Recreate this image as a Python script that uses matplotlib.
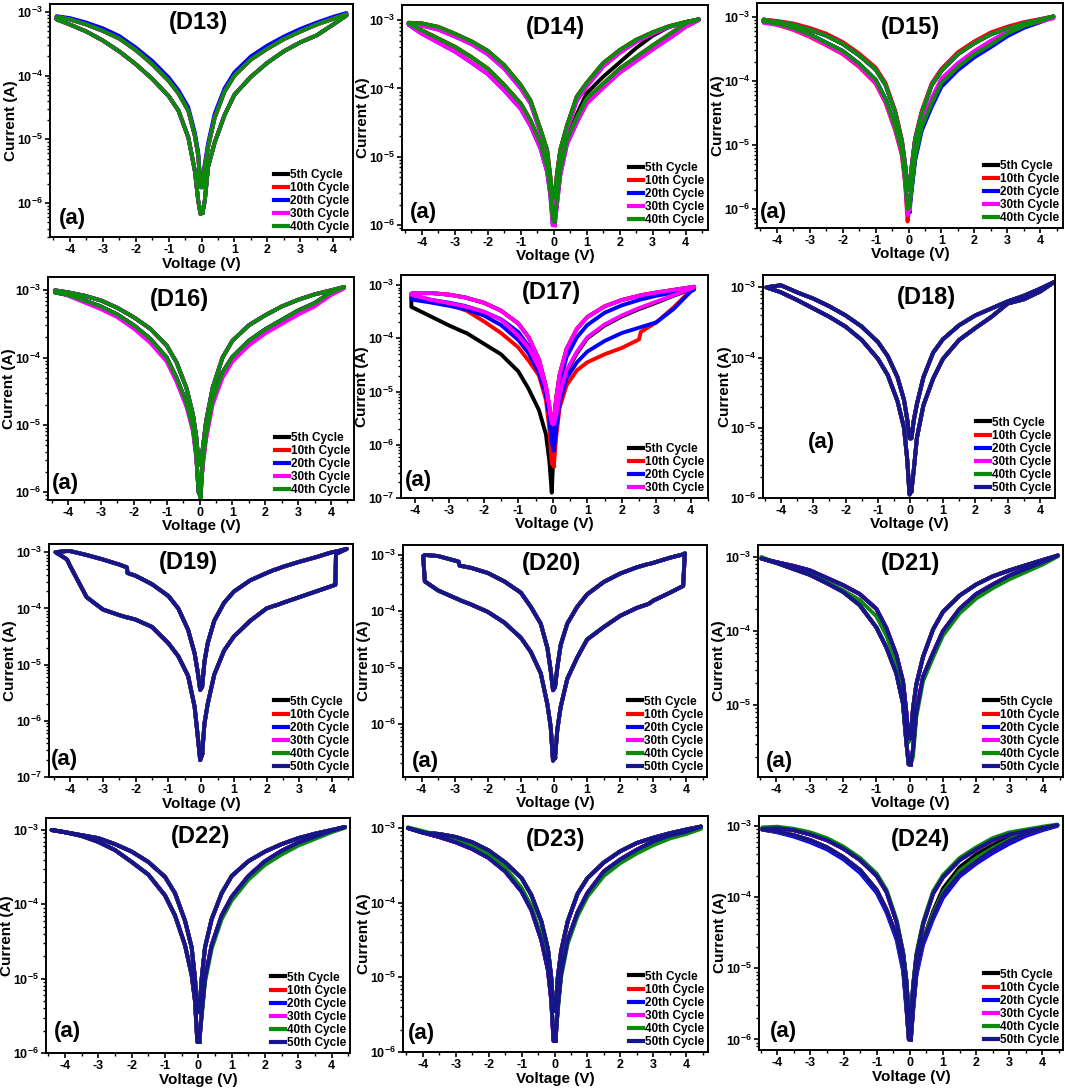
import numpy as np
import matplotlib.pyplot as plt
from matplotlib.ticker import MultipleLocator, LogLocator, FuncFormatter, NullFormatter

plt.rcParams['font.family'] = ['Liberation Sans', 'DejaVu Sans']
plt.rcParams['font.weight'] = 'bold'
plt.rcParams['axes.labelweight'] = 'bold'
plt.rcParams['axes.unicode_minus'] = False
plt.rcParams['mathtext.fontset'] = 'custom'
plt.rcParams['mathtext.rm'] = 'Liberation Sans'
plt.rcParams['mathtext.bf'] = 'Liberation Sans:bold'

CYCLES = ['5th Cycle', '10th Cycle', '20th Cycle', '30th Cycle', '40th Cycle', '50th Cycle']
COLORS = ['#000000', '#ff0000', '#0000ff', '#ff00ff', '#0b8a0b', '#16168a']

V_44 = [0.03, 0.1, 0.2, 0.4, 0.7, 1.0, 1.5, 2.0, 2.5, 3.0, 3.5, 4.0, 4.4]
V_445 = [0.03, 0.1, 0.2, 0.4, 0.7, 1.0, 1.5, 2.0, 2.5, 3.0, 3.5, 4.0, 4.45]
V_17 = [0.03, 0.1, 0.2, 0.4, 0.7, 1.0, 1.5, 2.0, 2.5, 2.55, 3.0, 3.5, 4.0, 4.1]
V_19 = [0.03, 0.1, 0.2, 0.4, 0.7, 1.0, 1.5, 2.0, 2.25, 2.27, 2.5, 3.0, 3.5, 4.0, 4.1, 4.12, 4.45]
V_20 = [0.03, 0.1, 0.2, 0.4, 0.7, 1.0, 1.5, 2.0, 2.5, 2.85, 2.88, 3.0, 3.5, 3.9, 3.95]

# log10 of current (A). UP = low-resistance branch, LO = high-resistance branch
D13_UP_POS = [-5.75, -5.43, -5.12, -4.66, -4.25, -4.0, -3.75, -3.58, -3.43, -3.31, -3.2, -3.11, -3.04]
D13_LO_POS = [-6.15, -5.96, -5.43, -5.05, -4.62, -4.3, -4.02, -3.8, -3.62, -3.48, -3.37, -3.2, -3.06]
D13_UP_NEG = [-5.75, -5.25, -4.95, -4.55, -4.28, -4.08, -3.82, -3.6, -3.42, -3.3, -3.2, -3.12, -3.08]
D13_LO_NEG = [-6.17, -5.96, -5.5, -4.97, -4.55, -4.32, -4.05, -3.82, -3.62, -3.45, -3.31, -3.2, -3.12]
D13_B_UP_POS = [-5.7, -5.38, -5.06, -4.6, -4.2, -3.95, -3.7, -3.53, -3.39, -3.27, -3.17, -3.08, -3.02]
D13_B_UP_NEG = [-5.7, -5.2, -4.9, -4.5, -4.23, -4.03, -3.77, -3.56, -3.38, -3.26, -3.17, -3.1, -3.07]

D14_UP_POS = [-5.6, -5.25, -4.9, -4.55, -4.12, -3.92, -3.63, -3.44, -3.29, -3.18, -3.09, -3.03, -2.99]
D14_LO_POS = [-5.95, -5.63, -5.2, -4.75, -4.43, -4.15, -3.93, -3.71, -3.54, -3.37, -3.21, -3.05, -2.99]
D14_UP_NEG = [-5.6, -5.3, -4.9, -4.6, -4.18, -3.95, -3.66, -3.45, -3.31, -3.2, -3.1, -3.05, -3.04]
D14_LO_NEG = [-5.9, -5.5, -5.15, -4.8, -4.47, -4.22, -3.95, -3.71, -3.54, -3.39, -3.27, -3.15, -3.05]
D14_K_LO_POS = [-5.95, -5.63, -5.2, -4.75, -4.38, -4.07, -3.83, -3.62, -3.41, -3.23, -3.1, -3.03, -2.99]
D14_M_UP_POS = [-5.65, -5.3, -4.95, -4.6, -4.18, -3.97, -3.68, -3.48, -3.32, -3.2, -3.1, -3.04, -2.99]
D14_M_LO_POS = [-6.0, -5.7, -5.27, -4.82, -4.5, -4.22, -3.99, -3.77, -3.6, -3.43, -3.27, -3.1, -3.0]
D14_M_UP_NEG = [-5.65, -5.35, -4.95, -4.65, -4.22, -4.0, -3.71, -3.5, -3.35, -3.24, -3.14, -3.08, -3.06]
D14_M_LO_NEG = [-6.0, -5.57, -5.22, -4.88, -4.55, -4.3, -4.03, -3.79, -3.62, -3.46, -3.33, -3.2, -3.07]

D15_UP_POS = [-5.7, -5.33, -4.92, -4.5, -4.07, -3.84, -3.58, -3.41, -3.27, -3.18, -3.1, -3.04, -2.99]
D15_LO_POS = [-5.96, -5.65, -5.2, -4.72, -4.35, -4.03, -3.78, -3.58, -3.43, -3.26, -3.14, -3.06, -2.99]
D15_UP_NEG = [-5.65, -5.33, -4.95, -4.5, -4.06, -3.82, -3.6, -3.42, -3.29, -3.2, -3.12, -3.07, -3.04]
D15_LO_NEG = [-6.0, -5.55, -5.1, -4.72, -4.28, -3.98, -3.73, -3.53, -3.4, -3.27, -3.17, -3.1, -3.07]
D15_R_UP_POS = [-5.7, -5.3, -4.89, -4.47, -4.04, -3.81, -3.55, -3.38, -3.24, -3.15, -3.08, -3.03, -2.99]
D15_R_UP_NEG = [-5.65, -5.3, -4.92, -4.47, -4.03, -3.79, -3.57, -3.39, -3.26, -3.17, -3.1, -3.06, -3.04]
D15_R_LO_NEG = [-6.2, -5.62, -5.17, -4.78, -4.34, -4.04, -3.78, -3.58, -3.44, -3.31, -3.2, -3.12, -3.08]
D15_B_LO_POS = [-6.05, -5.7, -5.25, -4.78, -4.41, -4.09, -3.83, -3.63, -3.47, -3.3, -3.17, -3.08, -3.0]
D15_M_LO_POS = [-6.0, -5.6, -5.13, -4.65, -4.27, -3.96, -3.72, -3.53, -3.37, -3.23, -3.13, -3.07, -3.02]
D15_M_LO_NEG = [-6.1, -5.6, -5.15, -4.77, -4.33, -4.03, -3.77, -3.57, -3.43, -3.3, -3.19, -3.12, -3.09]

D16_UP_POS = [-5.6, -5.35, -4.95, -4.45, -4.0, -3.75, -3.52, -3.37, -3.24, -3.14, -3.06, -3.0, -2.95]
D16_LO_POS = [-6.07, -5.55, -5.15, -4.62, -4.22, -3.99, -3.75, -3.58, -3.44, -3.3, -3.19, -3.03, -2.95]
D16_UP_NEG = [-5.55, -5.18, -4.85, -4.45, -4.07, -3.82, -3.57, -3.4, -3.26, -3.15, -3.08, -3.03, -3.0]
D16_LO_NEG = [-6.0, -5.45, -5.05, -4.67, -4.3, -4.0, -3.72, -3.52, -3.36, -3.24, -3.15, -3.07, -3.03]
D16_M_LO_POS = [-5.95, -5.62, -5.22, -4.7, -4.3, -4.06, -3.82, -3.64, -3.5, -3.36, -3.24, -3.07, -2.97]
D16_M_LO_NEG = [-5.9, -5.5, -5.1, -4.73, -4.36, -4.06, -3.78, -3.57, -3.4, -3.28, -3.18, -3.08, -3.0]

D17_UP_POS = [-5.55, -5.12, -4.68, -4.2, -3.82, -3.6, -3.4, -3.28, -3.2, -3.19, -3.14, -3.09, -3.04, -3.03]
D17_UP_NEG = [-5.6, -5.3, -4.9, -4.4, -3.98, -3.72, -3.48, -3.33, -3.24, -3.23, -3.18, -3.15, -3.15, -3.16]
D17_K_LO_POS = [-6.0, -5.5, -5.08, -4.63, -4.28, -4.0, -3.76, -3.59, -3.45, -3.44, -3.33, -3.2, -3.08, -3.03]
D17_K_LO_NEG = [-6.9, -6.3, -5.8, -5.35, -4.95, -4.62, -4.3, -4.1, -3.9, -3.89, -3.76, -3.6, -3.44, -3.41]
D17_R_LO_POS = [-6.4, -5.85, -5.3, -4.88, -4.6, -4.45, -4.3, -4.18, -4.02, -3.88, -3.7, -3.42, -3.1, -3.03]
D17_R_LO_NEG = [-6.35, -5.7, -5.15, -4.7, -4.42, -4.17, -3.9, -3.68, -3.48, -3.47, -3.36, -3.28, -3.2, -3.17]
D17_B_UP_POS = [-5.9, -5.3, -4.85, -4.35, -3.98, -3.75, -3.52, -3.38, -3.28, -3.27, -3.2, -3.14, -3.1, -3.08]
D17_B_LO_POS = [-6.1, -5.7, -5.2, -4.75, -4.45, -4.25, -4.05, -3.9, -3.8, -3.79, -3.7, -3.45, -3.12, -3.08]
D17_B_UP_NEG = [-5.9, -5.45, -5.0, -4.55, -4.15, -3.88, -3.64, -3.5, -3.4, -3.39, -3.33, -3.28, -3.25, -3.25]
D17_B_LO_NEG = [-5.95, -5.45, -5.05, -4.65, -4.28, -4.03, -3.75, -3.57, -3.46, -3.45, -3.39, -3.33, -3.28, -3.26]
D17_M_LO_POS = [-5.6, -5.45, -5.05, -4.6, -4.25, -3.98, -3.74, -3.57, -3.43, -3.42, -3.31, -3.19, -3.07, -3.03]
D17_M_LO_NEG = [-5.55, -5.25, -4.92, -4.55, -4.18, -3.95, -3.65, -3.5, -3.41, -3.4, -3.34, -3.28, -3.2, -3.18]

D18_UP_POS = [-5.15, -4.9, -4.66, -4.28, -3.93, -3.74, -3.54, -3.4, -3.3, -3.2, -3.12, -3.02, -2.92]
D18_LO_POS = [-5.9, -5.61, -5.14, -4.68, -4.3, -4.02, -3.75, -3.58, -3.42, -3.23, -3.17, -3.06, -2.92]
D18_UP_NEG = [-5.15, -4.88, -4.6, -4.28, -3.98, -3.78, -3.56, -3.4, -3.27, -3.16, -3.07, -2.97, -3.0]
D18_LO_NEG = [-5.95, -5.45, -5.0, -4.62, -4.25, -4.02, -3.75, -3.56, -3.42, -3.3, -3.18, -3.07, -3.0]

D19_UP_POS = [-5.4, -4.95, -4.62, -4.22, -3.9, -3.7, -3.5, -3.37, -3.31, -3.31, -3.26, -3.17, -3.09, -3.0, -2.99, -2.99, -2.94]
D19_LO_POS = [-6.6, -6.05, -5.7, -5.18, -4.75, -4.5, -4.22, -4.0, -3.95, -3.95, -3.9, -3.8, -3.7, -3.6, -3.58, -3.03, -2.94]
D19_UP_NEG = [-5.45, -5.15, -4.8, -4.38, -4.0, -3.78, -3.57, -3.42, -3.37, -3.27, -3.22, -3.13, -3.05, -2.98, -2.98, -2.98, -3.0]
D19_LO_NEG = [-6.7, -6.3, -5.75, -5.2, -4.85, -4.62, -4.33, -4.2, -4.16, -4.16, -4.12, -4.02, -3.8, -3.25, -3.13, -3.12, -3.0]

D20_UP_POS = [-5.35, -5.0, -4.6, -4.22, -3.92, -3.7, -3.48, -3.33, -3.22, -3.16, -3.16, -3.14, -3.05, -2.99, -2.98]
D20_LO_POS = [-6.6, -6.1, -5.7, -5.2, -4.82, -4.5, -4.28, -4.08, -3.94, -3.87, -3.86, -3.81, -3.67, -3.55, -2.97]
D20_UP_NEG = [-5.4, -5.05, -4.65, -4.22, -3.92, -3.67, -3.47, -3.32, -3.23, -3.19, -3.12, -3.1, -3.02, -3.0, -3.02]
D20_LO_NEG = [-6.65, -6.05, -5.65, -5.1, -4.72, -4.47, -4.2, -4.01, -3.88, -3.8, -3.79, -3.76, -3.63, -3.47, -3.03]

D21_UP_POS = [-5.45, -5.05, -4.72, -4.35, -3.98, -3.74, -3.52, -3.37, -3.26, -3.18, -3.11, -3.04, -2.98]
D21_LO_POS = [-5.8, -5.6, -5.1, -4.62, -4.3, -4.0, -3.7, -3.5, -3.37, -3.25, -3.16, -3.07, -2.98]
D21_UP_NEG = [-5.45, -5.1, -4.68, -4.32, -3.96, -3.7, -3.5, -3.38, -3.28, -3.18, -3.12, -3.07, -3.02]
D21_LO_NEG = [-5.8, -5.5, -4.98, -4.57, -4.22, -3.95, -3.65, -3.47, -3.35, -3.24, -3.16, -3.08, -3.02]
D21_G_LO_POS = [-5.8, -5.7, -5.16, -4.68, -4.36, -4.06, -3.76, -3.56, -3.42, -3.3, -3.2, -3.1, -2.99]
D21_G_UP_NEG = [-5.5, -5.2, -4.8, -4.42, -4.06, -3.8, -3.58, -3.45, -3.33, -3.22, -3.15, -3.08, -3.0]

D22_UP_POS = [-5.45, -5.0, -4.58, -4.2, -3.85, -3.62, -3.42, -3.29, -3.19, -3.11, -3.05, -3.0, -2.96]
D22_LO_POS = [-5.85, -5.47, -5.0, -4.55, -4.15, -3.9, -3.62, -3.42, -3.28, -3.17, -3.09, -3.01, -2.96]
D22_UP_NEG = [-5.45, -5.0, -4.58, -4.22, -3.85, -3.63, -3.43, -3.29, -3.19, -3.11, -3.07, -3.03, -3.0]
D22_LO_NEG = [-5.85, -5.3, -4.95, -4.55, -4.15, -3.88, -3.6, -3.43, -3.27, -3.16, -3.08, -3.03, -3.0]
D22_G_LO_POS = [-5.8, -5.52, -5.05, -4.6, -4.2, -3.95, -3.67, -3.47, -3.33, -3.21, -3.12, -3.03, -2.97]

D23_UP_POS = [-5.45, -5.0, -4.65, -4.25, -3.88, -3.67, -3.46, -3.31, -3.2, -3.13, -3.07, -3.02, -2.98]
D23_LO_POS = [-5.85, -5.4, -4.95, -4.5, -4.13, -3.87, -3.58, -3.42, -3.29, -3.18, -3.1, -3.05, -2.98]
D23_UP_NEG = [-5.45, -5.0, -4.62, -4.25, -3.9, -3.67, -3.46, -3.3, -3.19, -3.12, -3.08, -3.06, -3.0]
D23_LO_NEG = [-5.85, -5.3, -4.9, -4.5, -4.1, -3.85, -3.58, -3.4, -3.28, -3.19, -3.12, -3.06, -3.0]
D23_G_LO_POS = [-5.8, -5.45, -5.0, -4.55, -4.18, -3.92, -3.64, -3.47, -3.34, -3.23, -3.14, -3.08, -3.01]
D23_G_LO_NEG = [-5.8, -5.25, -4.85, -4.45, -4.05, -3.8, -3.53, -3.36, -3.25, -3.16, -3.1, -3.04, -2.99]

D24_UP_POS = [-5.75, -5.25, -4.82, -4.38, -3.95, -3.72, -3.48, -3.33, -3.2, -3.12, -3.07, -3.03, -2.99]
D24_LO_POS = [-6.0, -5.55, -5.05, -4.62, -4.27, -3.96, -3.68, -3.5, -3.34, -3.21, -3.11, -3.04, -2.99]
D24_UP_NEG = [-5.7, -5.2, -4.8, -4.35, -3.93, -3.7, -3.48, -3.32, -3.2, -3.12, -3.06, -3.03, -3.04]
D24_LO_NEG = [-6.0, -5.55, -5.0, -4.55, -4.18, -3.9, -3.62, -3.44, -3.3, -3.2, -3.13, -3.08, -3.05]
D24_K_LO_POS = [-6.0, -5.55, -5.05, -4.6, -4.2, -3.88, -3.58, -3.4, -3.27, -3.16, -3.08, -3.03, -2.99]
D24_G_UP_POS = [-5.7, -5.22, -4.79, -4.35, -3.92, -3.69, -3.45, -3.3, -3.17, -3.09, -3.05, -3.01, -2.98]
D24_G_LO_POS = [-6.0, -5.55, -5.05, -4.6, -4.23, -3.93, -3.63, -3.45, -3.31, -3.19, -3.1, -3.04, -2.99]
D24_G_UP_NEG = [-5.7, -5.18, -4.77, -4.32, -3.9, -3.67, -3.45, -3.29, -3.17, -3.09, -3.04, -3.01, -3.02]
D24_B_LO_POS = [-6.0, -5.6, -5.1, -4.67, -4.31, -4.01, -3.71, -3.53, -3.38, -3.25, -3.14, -3.06, -3.0]
D24_B_LO_NEG = [-6.0, -5.6, -5.05, -4.6, -4.22, -3.94, -3.66, -3.47, -3.33, -3.23, -3.15, -3.09, -3.05]

# one loop = (V grid, UP_POS, LO_POS, UP_NEG, LO_NEG)
L13 = (V_44, D13_UP_POS, D13_LO_POS, D13_UP_NEG, D13_LO_NEG)
L13_B = (V_44, D13_B_UP_POS, D13_LO_POS, D13_B_UP_NEG, D13_LO_NEG)
L14 = (V_44, D14_UP_POS, D14_LO_POS, D14_UP_NEG, D14_LO_NEG)
L14_K = (V_44, D14_UP_POS, D14_K_LO_POS, D14_UP_NEG, D14_LO_NEG)
L14_M = (V_44, D14_M_UP_POS, D14_M_LO_POS, D14_M_UP_NEG, D14_M_LO_NEG)
L15 = (V_44, D15_UP_POS, D15_LO_POS, D15_UP_NEG, D15_LO_NEG)
L15_R = (V_44, D15_R_UP_POS, D15_LO_POS, D15_R_UP_NEG, D15_R_LO_NEG)
L15_B = (V_44, D15_UP_POS, D15_B_LO_POS, D15_UP_NEG, D15_LO_NEG)
L15_M = (V_44, D15_UP_POS, D15_M_LO_POS, D15_UP_NEG, D15_M_LO_NEG)
L16 = (V_44, D16_UP_POS, D16_LO_POS, D16_UP_NEG, D16_LO_NEG)
L16_M = (V_44, D16_UP_POS, D16_M_LO_POS, D16_UP_NEG, D16_M_LO_NEG)
L17_K = (V_17, D17_UP_POS, D17_K_LO_POS, D17_UP_NEG, D17_K_LO_NEG)
L17_R = (V_17, D17_UP_POS, D17_R_LO_POS, D17_UP_NEG, D17_R_LO_NEG)
L17_B = (V_17, D17_B_UP_POS, D17_B_LO_POS, D17_B_UP_NEG, D17_B_LO_NEG)
L17_M = (V_17, D17_UP_POS, D17_M_LO_POS, D17_UP_NEG, D17_M_LO_NEG)
L18 = (V_445, D18_UP_POS, D18_LO_POS, D18_UP_NEG, D18_LO_NEG)
L19 = (V_19, D19_UP_POS, D19_LO_POS, D19_UP_NEG, D19_LO_NEG)
L20 = (V_20, D20_UP_POS, D20_LO_POS, D20_UP_NEG, D20_LO_NEG)
L21 = (V_445, D21_UP_POS, D21_LO_POS, D21_UP_NEG, D21_LO_NEG)
L21_G = (V_445, D21_UP_POS, D21_G_LO_POS, D21_G_UP_NEG, D21_LO_NEG)
L22 = (V_44, D22_UP_POS, D22_LO_POS, D22_UP_NEG, D22_LO_NEG)
L22_G = (V_44, D22_UP_POS, D22_G_LO_POS, D22_UP_NEG, D22_LO_NEG)
L23 = (V_445, D23_UP_POS, D23_LO_POS, D23_UP_NEG, D23_LO_NEG)
L23_G = (V_445, D23_UP_POS, D23_G_LO_POS, D23_UP_NEG, D23_G_LO_NEG)
L24 = (V_445, D24_UP_POS, D24_LO_POS, D24_UP_NEG, D24_LO_NEG)
L24_K = (V_445, D24_UP_POS, D24_K_LO_POS, D24_UP_NEG, D24_LO_NEG)
L24_B = (V_445, D24_UP_POS, D24_B_LO_POS, D24_UP_NEG, D24_B_LO_NEG)
L24_G = (V_445, D24_G_UP_POS, D24_G_LO_POS, D24_G_UP_NEG, D24_LO_NEG)

# layout: pixel box (left, top, right, bottom), limits, text spots in axes fraction
PANELS = [
    dict(tag='(D13)', box=(50, 4, 353, 237), xlim=(-4.6, 4.6), ylim=(2.95e-7, 1.32e-3),
         tpos=(0.49, 0.92), apos=(0.03, 0.08), loops=[L13, L13, L13_B, L13, L13]),
    dict(tag='(D14)', box=(402, 5, 708, 230), xlim=(-4.6, 4.68), ylim=(8.5e-7, 1.66e-3),
         tpos=(0.5, 0.9), apos=(0.026, 0.076), loops=[L14_K, L14, L14_M, L14_M, L14]),
    dict(tag='(D15)', box=(757, 3, 1063, 228), xlim=(-4.6, 4.69), ylim=(5.0e-7, 1.66e-3),
         tpos=(0.5, 0.89), apos=(0.01, 0.07), loops=[L15, L15_R, L15_B, L15_M, L15]),
    dict(tag='(D16)', box=(48, 277, 354, 500), xlim=(-4.61, 4.7), ylim=(7.6e-7, 1.58e-3),
         tpos=(0.43, 0.9), apos=(0.013, 0.076), loops=[L16, L16, L16, L16_M, L16]),
    dict(tag='(D17)', box=(401, 275, 708, 498), xlim=(-4.4, 4.5), ylim=(1.0e-7, 1.55e-3),
         tpos=(0.49, 0.92), apos=(0.013, 0.08), loops=[L17_K, L17_R, L17_B, L17_M]),
    dict(tag='(D18)', box=(763, 275, 1055, 498), xlim=(-4.55, 4.46), ylim=(1.0e-6, 1.5e-3),
         tpos=(0.56, 0.9), apos=(0.155, 0.247), loops=[L18] * 6),
    dict(tag='(D19)', box=(49, 544, 353, 777), xlim=(-4.65, 4.64), ylim=(1.0e-7, 1.4e-3),
         tpos=(0.46, 0.92), apos=(0.005, 0.073), loops=[L19] * 6),
    dict(tag='(D20)', box=(403, 545, 707, 777), xlim=(-4.56, 4.62), ylim=(1.15e-7, 1.5e-3),
         tpos=(0.49, 0.92), apos=(0.03, 0.065), loops=[L20] * 6),
    dict(tag='(D21)', box=(758, 545, 1063, 777), xlim=(-4.55, 4.6), ylim=(1.07e-6, 1.45e-3),
         tpos=(0.5, 0.92), apos=(0.026, 0.065), loops=[L21, L21, L21, L21, L21_G, L21]),
    dict(tag='(D22)', box=(46, 818, 350, 1053), xlim=(-4.57, 4.55), ylim=(1.0e-6, 1.45e-3),
         tpos=(0.51, 0.92), apos=(0.026, 0.09), loops=[L22, L22, L22, L22, L22_G, L22]),
    dict(tag='(D23)', box=(403, 816, 708, 1052), xlim=(-4.6, 4.66), ylim=(1.0e-6, 1.45e-3),
         tpos=(0.5, 0.9), apos=(0.016, 0.08), loops=[L23, L23, L23, L23, L23_G, L23]),
    dict(tag='(D24)', box=(759, 816, 1063, 1050), xlim=(-4.55, 4.62), ylim=(7.1e-7, 1.38e-3),
         tpos=(0.53, 0.9), apos=(0.036, 0.08), loops=[L24_K, L24, L24_B, L24, L24_G, L24]),
]

W, H = 1065.0, 1090.0
fig = plt.figure(figsize=(W / 100, H / 100), dpi=100)

ylab = FuncFormatter(lambda y, pos: r'$\mathbf{10^{%d}}$' % int(round(np.log10(y))))

for p in PANELS:
    l, t, r, b = p['box']
    ax = fig.add_axes([l / W, 1 - b / H, (r - l) / W, (b - t) / H])
    ax.set_yscale('log')

    handles = []
    for ci, lp in enumerate(p['loops']):
        v, up_pos, lo_pos, up_neg, lo_neg = [np.asarray(a, dtype=float) for a in lp]
        # sweep 0 -> +Vmax -> 0 -> -Vmax -> 0
        volt = np.concatenate([v, v[::-1], -v, -v[::-1], v[:1]])
        logi = np.concatenate([lo_pos, up_pos[::-1], up_neg, lo_neg[::-1], lo_pos[:1]])
        ln, = ax.plot(volt, 10.0 ** logi, color=COLORS[ci], lw=2.8, solid_joinstyle='round')
        handles.append(ln)

    ax.set_xlim(p['xlim'])
    ax.set_ylim(p['ylim'])
    ax.xaxis.set_major_locator(MultipleLocator(1))
    ax.xaxis.set_minor_locator(MultipleLocator(0.5))
    ax.yaxis.set_major_locator(LogLocator(base=10, numticks=15))
    ax.yaxis.set_minor_locator(LogLocator(base=10, subs=np.arange(2, 10), numticks=15))
    ax.yaxis.set_minor_formatter(NullFormatter())
    ax.yaxis.set_major_formatter(ylab)
    ax.tick_params(which='major', direction='out', length=3.5, width=1.2, pad=1.5)
    ax.tick_params(which='minor', direction='out', length=2, width=1.0)
    ax.tick_params(axis='x', labelsize=9)
    ax.tick_params(axis='y', labelsize=9)
    for s in ax.spines.values():
        s.set_linewidth(1.4)

    ax.set_xlabel('Voltage (V)', fontsize=11, fontweight='bold')
    ax.set_ylabel('Current (A)', fontsize=11, fontweight='bold')
    ax.xaxis.set_label_coords(0.5, -0.084)
    ax.yaxis.set_label_coords(-0.105, 0.5)

    ax.text(p['tpos'][0], p['tpos'][1], p['tag'], transform=ax.transAxes,
            fontsize=17, fontweight='bold', ha='center', va='center')
    ax.text(p['apos'][0], p['apos'][1], '(a)', transform=ax.transAxes,
            fontsize=16, fontweight='bold', ha='left', va='center')

    leg = ax.legend(handles, CYCLES[:len(handles)], loc='lower right', frameon=False,
                    fontsize=8.5, handlelength=1.2, handletextpad=0.15, labelspacing=0.1,
                    borderaxespad=0.2, borderpad=0.1)
    for h in leg.legend_handles:
        h.set_linewidth(3)

fig.savefig('out.png', dpi=100)
